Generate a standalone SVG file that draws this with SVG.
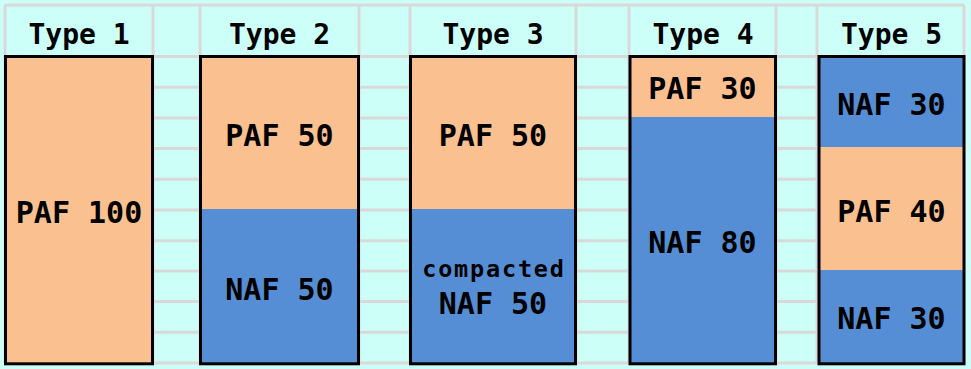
<svg xmlns="http://www.w3.org/2000/svg" width="971" height="369" viewBox="0 0 971 369">
  <style>
    .grid { stroke: #d9d9d9; stroke-width: 3; fill: none; }
    .paf { fill: #fac090; }
    .naf { fill: #558ed5; }
    .frame { fill: none; stroke: #000; stroke-width: 3; }
    text { font-family: "DejaVu Sans Mono", "Liberation Mono", monospace; font-weight: bold; fill: #000; text-anchor: middle; }
    .head { font-size: 28px; }
    .lbl { font-size: 30px; }
    .small { font-size: 23.5px; letter-spacing: 1.8px; }
  </style>

  <!-- sheet background -->
  <rect x="0" y="0" width="971" height="369" fill="#ccfff7"/>

  <!-- cell grid -->
  <g id="grid" class="grid">
    <path d="M5 5H964M5 56.5H964M5 87.3H964M5 118H964M5 148.5H964M5 179.3H964M5 210H964M5 240.7H964M5 271H964M5 301.5H964M5 332.3H964M5 363H964"/>
    <path d="M5 5V363M153 5V363M200 5V363M359 5V363M410 5V363M576 5V363M629 5V363M776 5V363M817 5V363M964 5V363"/>
  </g>

  <!-- column headers -->
  <g id="headers">
    <text class="head" x="79" y="43.5">Type 1</text>
    <text class="head" x="279.5" y="43.5">Type 2</text>
    <text class="head" x="493" y="43.5">Type 3</text>
    <text class="head" x="703" y="43.5">Type 4</text>
    <text class="head" x="891.5" y="43.5">Type 5</text>
  </g>

  <g id="type1">
    <rect class="paf" x="5.5" y="56.5" width="147" height="307.3"/>
    <rect class="frame" x="5.5" y="56.5" width="147" height="307.3"/>
    <text class="lbl" x="79" y="223">PAF 100</text>
  </g>

  <g id="type2">
    <rect class="paf" x="200.5" y="56.5" width="158" height="152.5"/>
    <rect class="naf" x="200.5" y="209" width="158" height="154.8"/>
    <rect class="frame" x="200.5" y="56.5" width="158" height="307.3"/>
    <text class="lbl" x="279.5" y="146">PAF 50</text>
    <text class="lbl" x="279.5" y="300">NAF 50</text>
  </g>

  <g id="type3">
    <rect class="paf" x="410.5" y="56.5" width="165" height="152.5"/>
    <rect class="naf" x="410.5" y="209" width="165" height="154.8"/>
    <rect class="frame" x="410.5" y="56.5" width="165" height="307.3"/>
    <text class="lbl" x="493" y="146">PAF 50</text>
    <text class="small" x="494" y="277.3">compacted</text>
    <text class="lbl" x="493" y="314">NAF 50</text>
  </g>

  <g id="type4">
    <rect class="paf" x="630" y="56.5" width="145.5" height="60.5"/>
    <rect class="naf" x="630" y="117" width="145.5" height="246.8"/>
    <rect class="frame" x="630" y="56.5" width="145.5" height="307.3"/>
    <text class="lbl" x="702.5" y="99">PAF 30</text>
    <text class="lbl" x="702.5" y="253">NAF 80</text>
  </g>

  <g id="type5">
    <rect class="naf" x="819" y="56.5" width="145" height="90.5"/>
    <rect class="paf" x="819" y="147" width="145" height="123"/>
    <rect class="naf" x="819" y="270" width="145" height="93.8"/>
    <rect class="frame" x="819" y="56.5" width="145" height="307.3"/>
    <text class="lbl" x="891.5" y="115">NAF 30</text>
    <text class="lbl" x="891.5" y="221.7">PAF 40</text>
    <text class="lbl" x="891.5" y="329.3">NAF 30</text>
  </g>
</svg>
